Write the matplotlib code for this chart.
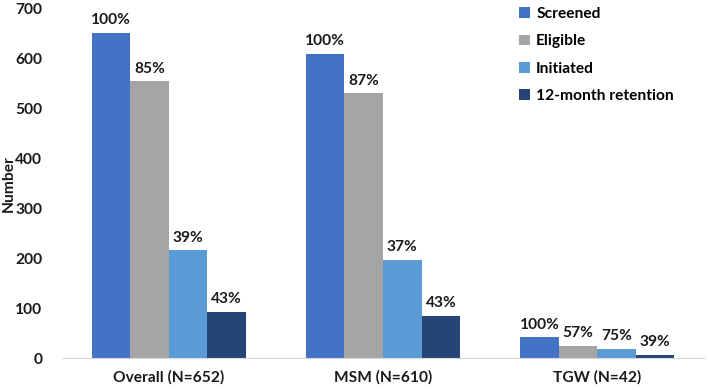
import matplotlib.pyplot as plt
import numpy as np

plt.rcParams['font.family'] = ['Lato', 'DejaVu Sans']
plt.rcParams['font.weight'] = 'bold'

groups = ["Overall (N=652)", "MSM (N=610)", "TGW (N=42)"]
series = ["Screened", "Eligible", "Initiated", "12-month retention"]
colors = ["#4472C4", "#A5A5A5", "#5B9BD5", "#264478"]

screened = [652, 610, 42]
eligible = [555, 531, 24]
initiated = [216, 197, 18]
retention = [93, 85, 7]

pct_screened = ["100%", "100%", "100%"]
pct_eligible = ["85%", "87%", "57%"]
pct_initiated = ["39%", "37%", "75%"]
pct_retention = ["43%", "43%", "39%"]


def main():
    values = [screened, eligible, initiated, retention]
    pcts = [pct_screened, pct_eligible, pct_initiated, pct_retention]

    fig = plt.figure(figsize=(7.1, 3.9), dpi=100)
    ax = fig.add_axes([0.087, 0.082, 0.905, 0.895])

    x = np.arange(len(groups))
    width = 0.18
    fs = 11.2
    for i, (name, vals, pc, col) in enumerate(zip(series, values, pcts, colors)):
        pos = x + (i - 1.5) * width
        bars = ax.bar(pos, vals, width, color=col, label=name)
        ax.bar_label(bars, labels=pc, padding=4, fontsize=fs,
                     fontweight='bold', color="#1a1a1a")

    ax.set_xlim(-0.5, 2.5)
    ax.set_ylim(0, 700)
    ax.set_yticks(range(0, 701, 100))
    ax.set_xticks(x)
    ax.set_xticklabels(groups, fontsize=fs, fontweight='bold')
    ax.tick_params(axis='both', length=0, labelsize=fs, colors="#1a1a1a")
    ax.tick_params(axis='x', pad=9)
    ax.tick_params(axis='y', pad=14)
    for s in ["top", "right", "left"]:
        ax.spines[s].set_visible(False)
    ax.spines["bottom"].set_color("#d9d9d9")
    ax.set_ylabel("Number", fontsize=fs, fontweight='bold', color="#1a1a1a")
    ax.yaxis.set_label_coords(-0.0716, 0.50)

    ax.legend(loc="upper left", bbox_to_anchor=(0.69, 1.045), frameon=False,
              fontsize=fs, handlelength=0.7, handleheight=0.7,
              handletextpad=0.4, labelspacing=0.85)

    fig.savefig("out.png", dpi=100)


if __name__ == "__main__":
    main()
